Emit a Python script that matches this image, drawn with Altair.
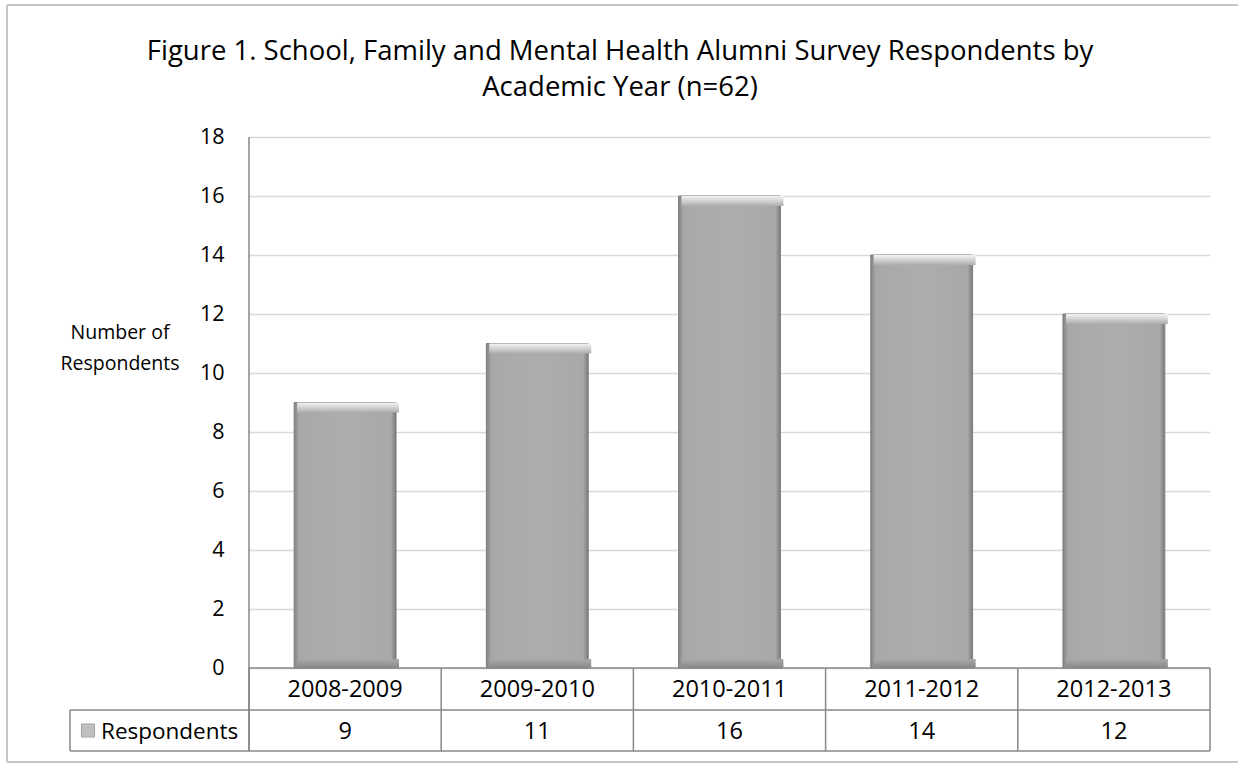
import altair as alt
import pandas as pd

# Survey respondents per academic year
years = ["2008-2009", "2009-2010", "2010-2011", "2011-2012", "2012-2013"]
respondents = [9, 11, 16, 14, 12]
y_ticks = [0, 2, 4, 6, 8, 10, 12, 14, 16, 18]

title_lines = [
    "Figure 1. School, Family and Mental Health Alumni Survey Respondents by",
    "Academic Year (n=62)",
]
y_title_lines = ["Number of", "Respondents"]
series_name = "Respondents"

df = pd.DataFrame({"year": years, "n": respondents})

W, H = 961, 531          # plot area
ROW1, ROW2 = 42, 83      # data-table row bottoms below the baseline
FONT = "Open Sans"
LINE = "#878787"
P_IN, P_OUT = 0.47, 0.235
STEP = W / 5
HALF_GAP = P_OUT * STEP  # distance from band edge to bar edge

x_scale = alt.Scale(paddingInner=P_IN, paddingOuter=P_OUT)
x_enc = alt.X("year:N", sort=years, scale=x_scale, axis=None)
y_enc = alt.Y(
    "n:Q",
    scale=alt.Scale(domain=[0, 18], nice=False),
    axis=alt.Axis(
        values=y_ticks,
        title=None,
        domain=False,
        ticks=False,
        labelFont=FONT,
        labelFontSize=21.5,
        labelColor="#000000",
        labelPadding=25,
        gridColor="#d9d9d9",
        gridWidth=1.5,
    ),
)

base = alt.Chart(df)

body_fill = alt.Gradient(
    gradient="linear",
    x1=0, y1=0, x2=1, y2=0,
    stops=[
        alt.GradientStop(offset=0, color="#828282"),
        alt.GradientStop(offset=0.05, color="#a8a8a8"),
        alt.GradientStop(offset=0.5, color="#adadad"),
        alt.GradientStop(offset=0.95, color="#a8a8a8"),
        alt.GradientStop(offset=1, color="#7a7a7a"),
    ],
)
top_fill = alt.Gradient(
    gradient="linear",
    x1=0, y1=0, x2=0, y2=1,
    stops=[
        alt.GradientStop(offset=0, color="#f4f4f4"),
        alt.GradientStop(offset=0.4, color="#d8d8d8"),
        alt.GradientStop(offset=1, color="#adadad"),
    ],
)
bottom_fill = alt.Gradient(
    gradient="linear",
    x1=0, y1=0, x2=0, y2=1,
    stops=[
        alt.GradientStop(offset=0, color="#a9a9a9"),
        alt.GradientStop(offset=1, color="#888888"),
    ],
)

bars = base.mark_bar(fill=body_fill, stroke="#7e7e7e", strokeWidth=1).encode(
    x=x_enc, y=y_enc
)
bevel_top = base.mark_bar(fill=top_fill, y2Offset=10, xOffset=3, x2Offset=-3).encode(
    x=x_enc, y="n:Q", y2="n:Q"
)
bevel_bottom = base.mark_bar(fill=bottom_fill, yOffset=-9, xOffset=3, x2Offset=-3).encode(
    x=x_enc, y=alt.datum(0), y2=alt.datum(0)
)

# Data table below the plot
TFS = 23.5
cat_labels = base.mark_text(font=FONT, fontSize=TFS, color="#000000", baseline="middle").encode(
    x=x_enc, y=alt.value(H + ROW1 / 2 + 1), text="year:N"
)
val_labels = base.mark_text(font=FONT, fontSize=TFS, color="#000000", baseline="middle").encode(
    x=x_enc, y=alt.value(H + (ROW1 + ROW2) / 2 + 1), text="n:Q"
)
col_lines = base.mark_rule(color=LINE, strokeWidth=1.5, xOffset=-HALF_GAP).encode(
    x=alt.X("year:N", sort=years, bandPosition=0, scale=x_scale, axis=None),
    y=alt.value(H),
    y2=alt.value(H + ROW2),
)

frame = pd.DataFrame({
    "x": [0, -179, -179, W, -179, 0],
    "x2": [W, W, W, W, -179, 0],
    "y": [H, H + ROW1, H + ROW2, H, H + ROW1, 0],
    "y2": [H, H + ROW1, H + ROW2, H + ROW2, H + ROW2, H + ROW2],
})
table_lines = alt.Chart(frame).mark_rule(color=LINE, strokeWidth=1.5).encode(
    x=alt.X("x:Q", scale=None), x2="x2:Q",
    y=alt.Y("y:Q", scale=None), y2="y2:Q",
)

# Outer chart border
border = pd.DataFrame({
    "x": [-242, -242, -242],
    "x2": [989, -242, 989],
    "y": [-132, -132, 625],
    "y2": [-132, 625, 625],
})
border_lines = alt.Chart(border).mark_rule(color="#c6c6c6", strokeWidth=2).encode(
    x=alt.X("x:Q", scale=None), x2="x2:Q",
    y=alt.Y("y:Q", scale=None), y2="y2:Q",
)

legend_swatch = alt.Chart(pd.DataFrame({"s": [series_name]})).mark_square(
    size=170, fill="#a6a6a6", stroke="#7e7e7e", strokeWidth=1
).encode(x=alt.value(-161), y=alt.value(H + (ROW1 + ROW2) / 2))
legend_text = alt.Chart(pd.DataFrame({"s": [series_name]})).mark_text(
    font=FONT, fontSize=22.5, align="left", baseline="middle", color="#000000"
).encode(x=alt.value(-148), y=alt.value(H + (ROW1 + ROW2) / 2 + 1), text="s:N")

title = alt.Chart(pd.DataFrame({"t": [0]})).mark_text(
    font=FONT, fontSize=27.5, align="center", baseline="middle",
    lineHeight=36, color="#000000", text=title_lines,
).encode(x=alt.value(371), y=alt.value(-85))

y_title = alt.Chart(pd.DataFrame({"t": [0]})).mark_text(
    font=FONT, fontSize=19.5, align="center", baseline="middle",
    lineHeight=31, color="#000000", text=y_title_lines,
).encode(x=alt.value(-129), y=alt.value(196))

chart = alt.layer(
    border_lines, bars, bevel_bottom, bevel_top, table_lines, col_lines,
    cat_labels, val_labels, legend_swatch, legend_text, title, y_title,
).properties(
    width=W, height=H,
    padding={"left": 249, "top": 137, "right": 28, "bottom": 96},
    autosize=alt.AutoSizeParams(type="none"),
    background="#ffffff",
).configure_view(stroke=None)

chart.save("out.html", embed_options={"renderer": "svg", "actions": False})
